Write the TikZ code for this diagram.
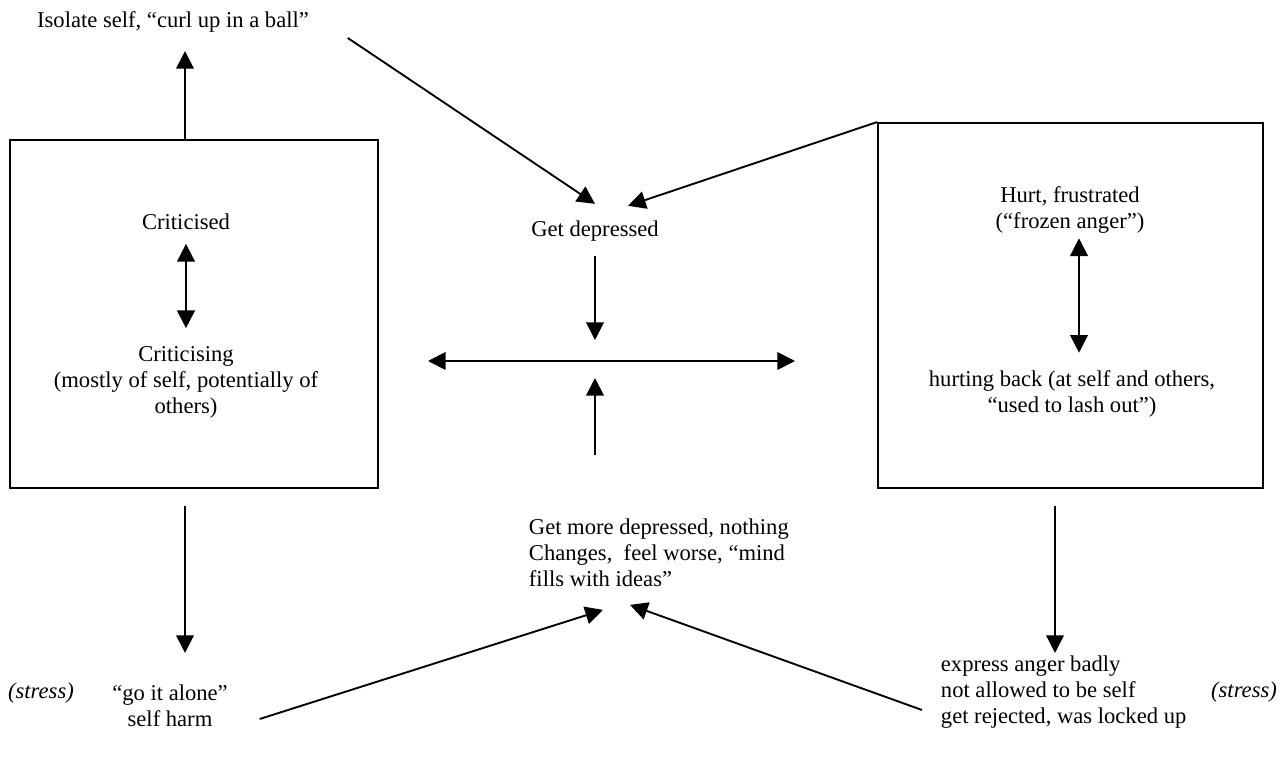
\documentclass[tikz,border=0pt]{standalone}
\usepackage{fontspec}
\setmainfont{Liberation Serif}
\usetikzlibrary{arrows.meta}

\begin{document}
\begin{tikzpicture}[x=0.01866cm, y=-0.01866cm, line width=1pt,
    >={Triangle[length=0.33cm, width=0.33cm]},
    every node/.style={font=\fontsize{12}{13.8}\selectfont, inner sep=0pt},
    box/.style={draw, line width=1pt},
    stressnote/.style={font=\fontsize{12}{13.8}\selectfont\itshape}
   ]
\useasboundingbox (0,0) rectangle (1287,759);

\node[box, minimum width=6.867cm, minimum height=6.494cm] (crit box) at (194,314) {};
\node[box, minimum width=7.184cm, minimum height=6.811cm] (hurt box) at (1070.5,305.5) {};

\node (isolate) at (173,22) {Isolate self, “curl up in a ball”};
\node (dep) at (595,231) {Get depressed};
\node[align=left, anchor=west] (more) at (528,553)
    {Get more depressed, nothing\\Changes,\ \ feel worse, “mind\\fills with ideas”};
\node (crit) at (186,222) {Criticised};
\node[align=center] (critg) at (186,382)
    {Criticising\\(mostly of self, potentially of\\others)};
\node[align=center] (hurt) at (1070,210) {Hurt, frustrated\\(“frozen anger”)};
\node[align=center] (back) at (1072,394)
    {hurting back (at self and others,\\“used to lash out”)};
\node[align=center] (alone) at (170,706) {“go it alone”\\self harm};
\node[stressnote] (stress left) at (41,693) {(stress)};
\node[align=left, anchor=west] (express) at (940,692)
    {express anger badly\\not allowed to be self\\get rejected, was locked up};
\node[stressnote] (stress right) at (1244,692) {(stress)};

\coordinate (hub) at (595,361);

\draw[->] ([shift={(-9,0)}]crit box.north) -- ++(0,-88);
\draw[->] ([shift={(38,16)}]isolate.east) -- ([shift={(0,-16)}]dep.north);
\draw[->] (hurt box.north west) -- ([shift={(33,-14)}]dep.north);
\draw[->] ([shift={(0,14)}]dep.south) -- ([shift={(0,-21)}]hub);
\draw[<->] ([shift={(-167,0)}]hub) -- ([shift={(200,0)}]hub);
\draw[->] ([shift={(0,94)}]hub) -- ([shift={(0,17)}]hub);
\draw[->] ([shift={(31,13)}]alone.east) -- ([shift={(75,22)}]more.south west);
\draw[->] ([shift={(-18,18)}]express.west) -- ([shift={(102,17)}]more.south west);
\draw[<->] ([shift={(0,13)}]crit.south) -- ([shift={(0,-17)}]critg.north);
\draw[<->] ([shift={(9,4)}]hurt.south) -- ([shift={(7,-17)}]back.north);

\foreach \b/\dx in {crit box/-9, hurt box/-15.5}
{
    \draw[->] ([shift={(\dx,17)}]\b.south) -- ++(0,147);
}

\end{tikzpicture}
\end{document}
